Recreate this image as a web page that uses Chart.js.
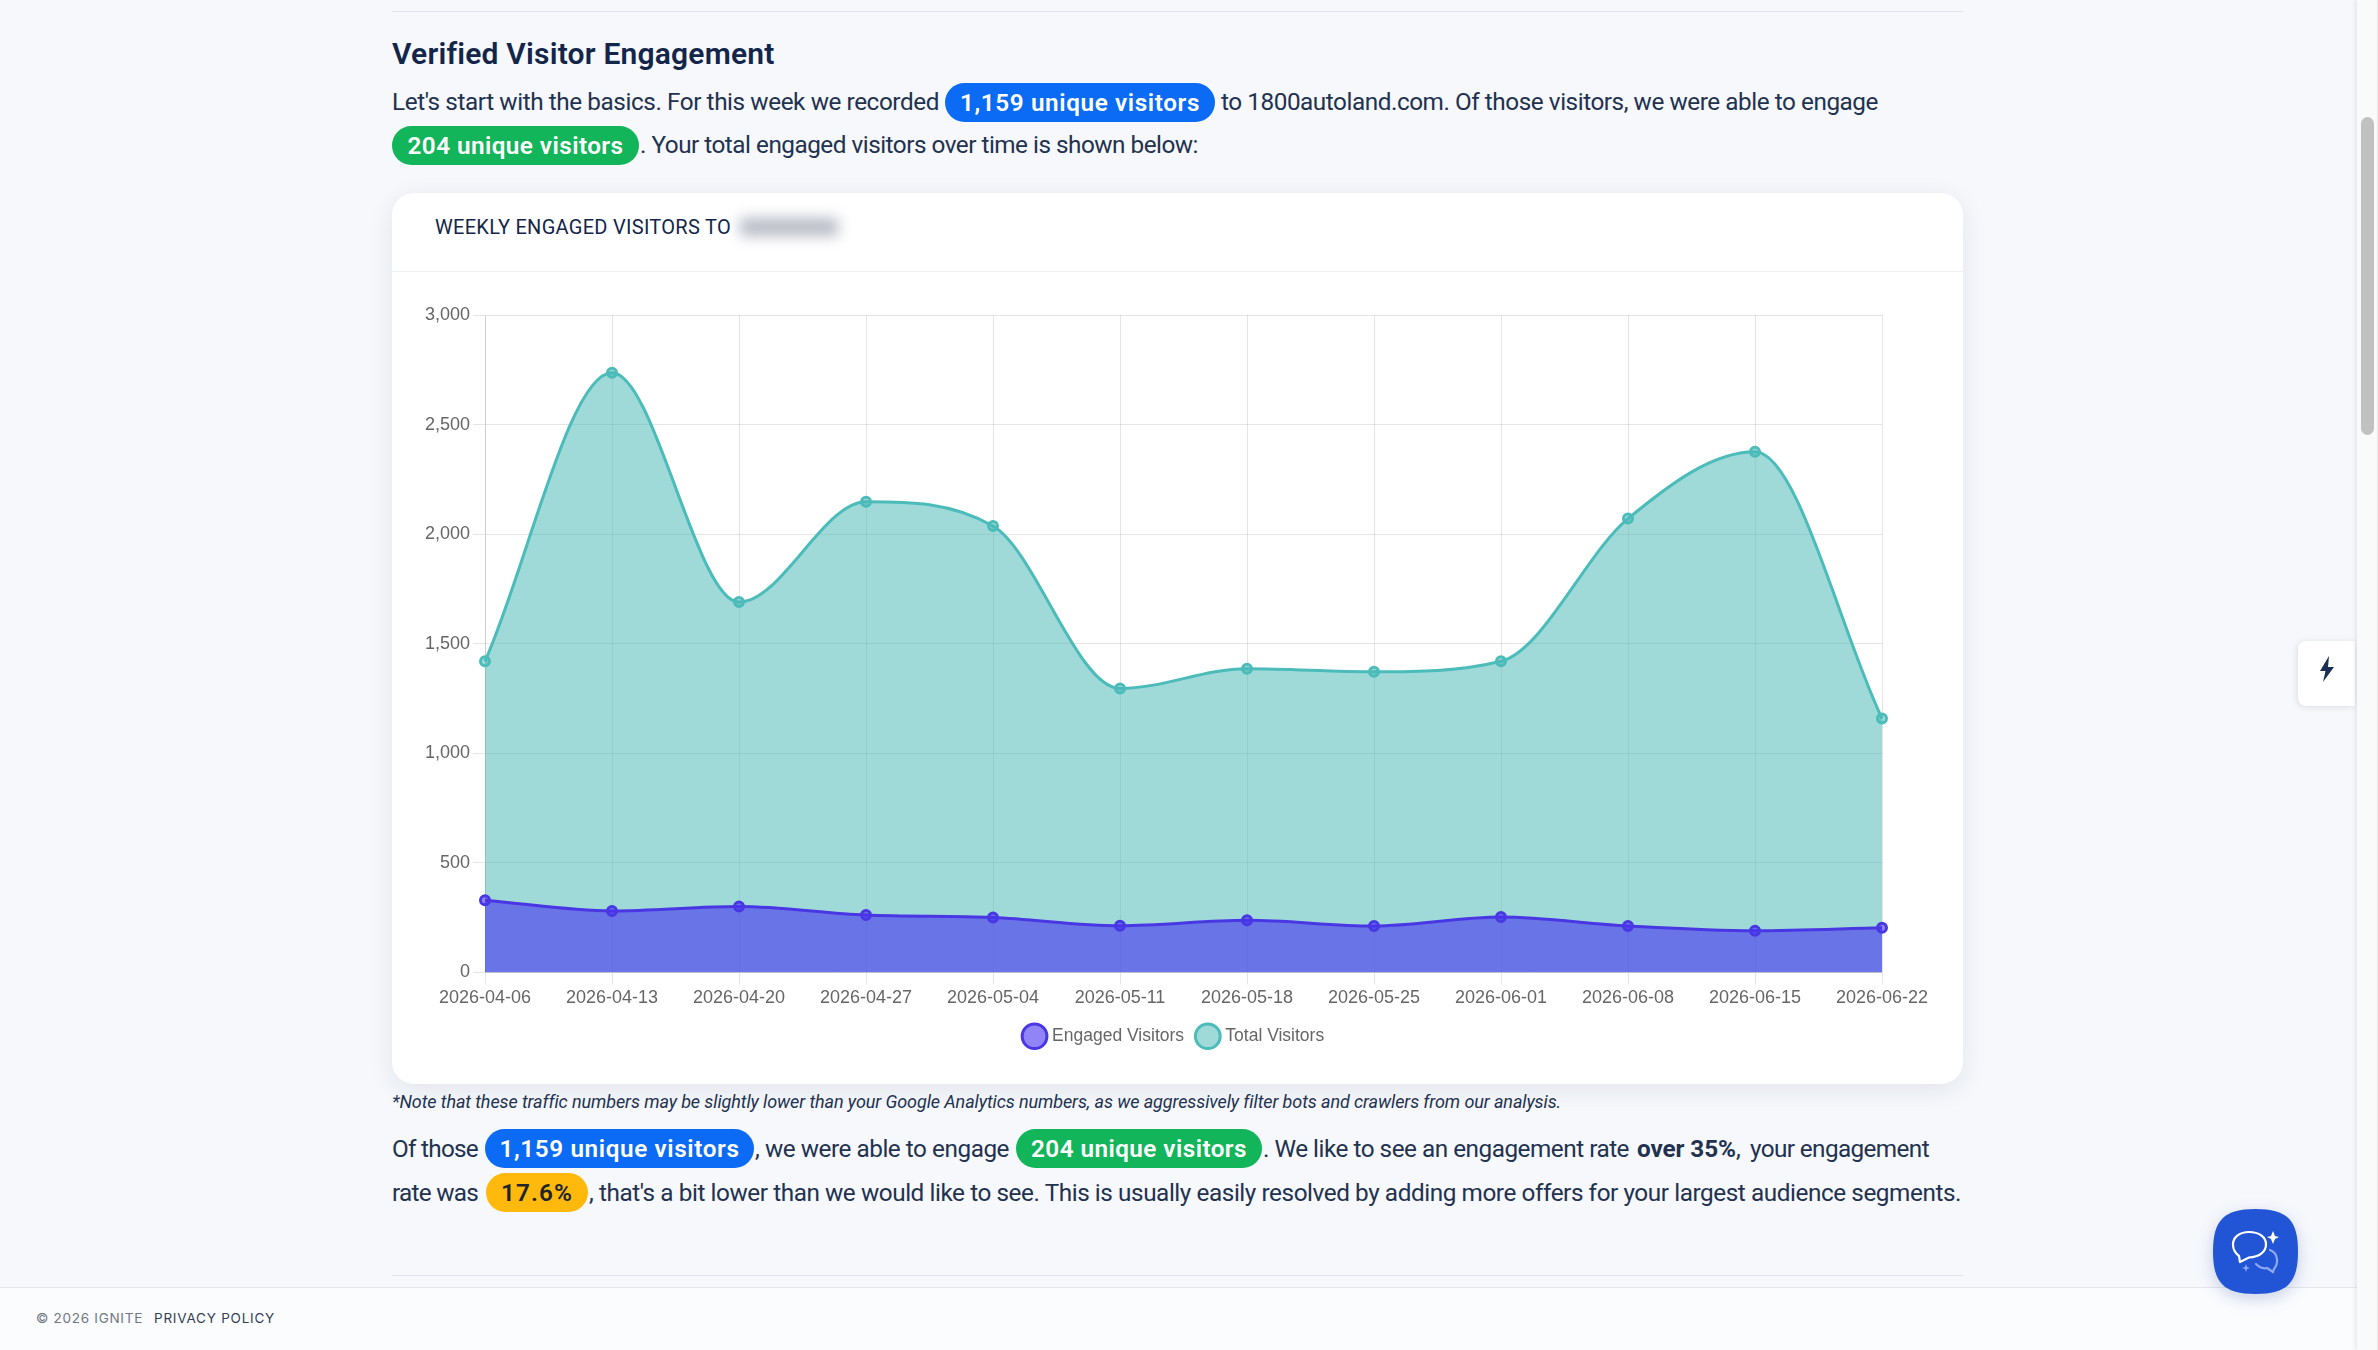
<!DOCTYPE html>
<html>
<head>
<meta charset="utf-8">
<title>Verified Visitor Engagement</title>
<script src="https://cdn.jsdelivr.net/npm/chart.js@4"></script>
<style>
  html, body { margin: 0; padding: 0; width: 2378px; height: 1350px; overflow: hidden; background: #f6f8fc; font-family: Roboto, sans-serif; color: #22324f; }
  .rule { position: absolute; left: 392px; width: 1571px; height: 1px; background: #e2e4ec; }
  .t { position: absolute; white-space: nowrap; line-height: 1; font-size: 24.3px; transform: translateY(-50%); }
  .pill { position: absolute; height: 39px; border-radius: 20px; color: #fff; font-size: 24.3px; font-weight: 600; display: flex; align-items: center; justify-content: center; white-space: nowrap; }
  .blue { background: #0b6bf5; }
  .green { background: #12b55a; }
  .yellow { background: #ffb90d; color: #212529; }
  #card { position: absolute; left: 392px; top: 193px; width: 1571px; height: 891px; background: #fff; border-radius: 22px; box-shadow: 0 6px 26px rgba(20,30,60,.09); }
  #cardHead { position: absolute; left: 392px; top: 271px; width: 1571px; height: 1px; background: #eef0f4; }
  #blurred { position: absolute; left: 740px; top: 218px; width: 98px; height: 18px; background: #7d8396; opacity: .55; filter: blur(7px); }
  #chartBox { position: absolute; left: 392px; top: 271px; }
  #footer { position: absolute; left: 0; top: 1287px; width: 2357px; height: 63px; background: #fbfcfe; border-top: 1px solid #e4e6ec; box-sizing: border-box; }
  #track { position: absolute; left: 2357px; top: 0; width: 21px; height: 1350px; background: #fafafa; box-shadow: -2px 0 4px rgba(0,0,0,.08); border-right: 1px solid #eaeaea; box-sizing: border-box; }
  #thumb { position: absolute; left: 2361px; top: 117px; width: 13px; height: 318px; border-radius: 7px; background: #c1c1c1; }
  #tab { position: absolute; left: 2298px; top: 641px; width: 57px; height: 65px; background: #fff; border-radius: 8px 0 0 8px; box-shadow: -1px 1px 6px rgba(20,30,60,.12); }
  #chat { position: absolute; left: 2213px; top: 1209px; filter: drop-shadow(0 5px 8px rgba(30,60,150,.22)); }
</style>
</head>
<body>
<div class="rule" style="top:11px"></div>
<div class="t" data-w="382" style="left:392px;top:54px;font-size:30px;font-weight:600;color:#13264a">Verified Visitor Engagement</div>

<div class="t" data-w="547" style="left:392px;top:102px">Let's start with the basics. For this week we recorded</div>
<div class="pill blue" style="left:945px;top:83px;width:270px"><span data-w="240">1,159 unique visitors</span></div>
<div class="t" data-w="657" style="left:1221px;top:102px">to 1800autoland.com. Of those visitors, we were able to engage</div>
<div class="pill green" style="left:392px;top:126px;width:247px"><span data-w="216">204 unique visitors</span></div>
<div class="t" data-w="558" style="left:640px;top:145px">. Your total engaged visitors over time is shown below:</div>

<div id="card"></div>
<div id="cardHead"></div>
<div class="t" data-w="296" style="left:435px;top:227px;font-size:20px;color:#13264a">WEEKLY ENGAGED VISITORS TO</div>
<div id="blurred"></div>
<div id="chartBox"><canvas id="visitorsChart" width="1571" height="787"></canvas></div>

<div class="t" data-w="1167" style="left:392px;top:1102px;font-size:18px;font-style:italic">*Note that these traffic numbers may be slightly lower than your Google Analytics numbers, as we aggressively filter bots and crawlers from our analysis.</div>

<div class="t" data-w="86" style="left:392px;top:1149px">Of those</div>
<div class="pill blue" style="left:485px;top:1129px;width:269px"><span data-w="240">1,159 unique visitors</span></div>
<div class="t" data-w="254" style="left:755px;top:1149px">, we were able to engage</div>
<div class="pill green" style="left:1016px;top:1129px;width:246px"><span data-w="216">204 unique visitors</span></div>
<div class="t" data-w="366" style="left:1263px;top:1149px">. We like to see an engagement rate</div>
<div class="t" data-w="99" style="left:1637px;top:1149px;font-weight:700">over 35%</div>
<div class="t" style="left:1736px;top:1149px">,</div>
<div class="t" data-w="179" style="left:1750px;top:1149px">your engagement</div>

<div class="t" data-w="86" style="left:392px;top:1193px">rate was</div>
<div class="pill yellow" style="left:486px;top:1173px;width:102px"><span data-w="72">17.6%</span></div>
<div class="t" data-w="1372" style="left:589px;top:1193px">, that's a bit lower than we would like to see. This is usually easily resolved by adding more offers for your largest audience segments.</div>

<div class="rule" style="top:1275px"></div>
<div id="footer"></div>
<div class="t" data-w="107" style="left:36px;top:1319px;font-family:Inter,sans-serif;font-size:13.5px;color:#6f7684">© 2026 IGNITE</div>
<div class="t" data-w="121" style="left:154px;top:1319px;font-family:Inter,sans-serif;font-size:13.5px;color:#343f56">PRIVACY POLICY</div>

<div id="tab">
  <svg width="57" height="65" viewBox="0 0 57 65" style="position:absolute;left:0;top:0">
    <path d="M31 15 L22 30 L27.5 30 L25 41 L36 26 L30 26 Z" fill="#1b2f55"/>
  </svg>
</div>
<svg id="chat" width="85" height="85" viewBox="0 0 85 85">
  <path d="M42.5 0 C74 0 85 11 85 42.5 C85 74 74 85 42.5 85 C11 85 0 74 0 42.5 C0 11 11 0 42.5 0 Z" fill="#2255d6"/>
  <path d="M36 23 C46 23 53 28 53 35.5 C53 43 46 48 36 48.5 L27 53 L26 47 C22 44 20 40 20 35.5 C20 28 27 23 36 23 Z" fill="none" stroke="#fff" stroke-width="2.2" stroke-linejoin="round"/>
  <path d="M57 41 C65 44 66 54 61 60 L60 63 L54 59 C50 60 47 59 43 55" fill="none" stroke="#8fa9f0" stroke-width="2.2" stroke-linecap="round"/>
  <path d="M60 22 L62 27 L66 28 L62 30 L60 35 L58 30 L54 28 L58 27 Z" fill="#fff"/>
  <path d="M33 55 L34 58 L37 59 L34 60 L33 63 L32 60 L29 59 L32 58 Z" fill="#8fa9f0"/>
</svg>
<div id="track"></div>
<div id="thumb"></div>

<script>
const weeks = ['2026-04-06', '2026-04-13', '2026-04-20', '2026-04-27', '2026-05-04', '2026-05-11', '2026-05-18', '2026-05-25', '2026-06-01', '2026-06-08', '2026-06-15', '2026-06-22'];
const engagedVisitors = [330, 281, 301, 262, 251, 213, 238, 212, 253, 212, 190, 204];
const totalVisitors = [1420, 2737, 1690, 2148, 2037, 1296, 1386, 1372, 1420, 2071, 2376, 1159];

// stretch each text run to the width it has in the reference
document.querySelectorAll('[data-w]').forEach(function (el) {
  const natural = el.getBoundingClientRect().width;
  const target = Number(el.dataset.w);
  el.style.letterSpacing = ((target - natural) / el.textContent.length) + 'px';
});

Chart.defaults.font.family = '"Liberation Sans", Arial, sans-serif';
Chart.defaults.font.size = 18;
Chart.defaults.color = '#666';

// right padding pulls the legend off centre, push it back under the plot
const centerLegend = {
  id: 'centerLegend',
  afterLayout: function (chart) {
    chart.legend.left += 38;
    chart.legend.right += 38;
  }
};

const ctx = document.getElementById('visitorsChart').getContext('2d');
const visitorsChart = new Chart(ctx, {
  type: 'line',
  data: {
    labels: weeks,
    datasets: [{
      label: 'Engaged Visitors',
      data: engagedVisitors,
      borderColor: 'rgb(74, 55, 228)',
      backgroundColor: 'rgba(70, 50, 240, 0.6)',
      borderWidth: 3,
      pointRadius: 4.5,
      pointBorderWidth: 3,
      cubicInterpolationMode: 'monotone',
      fill: 'origin'
    }, {
      label: 'Total Visitors',
      data: totalVisitors,
      borderColor: 'rgb(75, 188, 185)',
      backgroundColor: 'rgba(70, 184, 182, 0.52)',
      borderWidth: 3,
      pointRadius: 4.5,
      pointBorderWidth: 3,
      cubicInterpolationMode: 'monotone',
      fill: 'origin'
    }]
  },
  plugins: [centerLegend],
  options: {
    responsive: false,
    animation: false,
    layout: { padding: { left: 0, right: 81, top: 44, bottom: 3 } },
    scales: {
      x: {
        afterFit: function (scale) { scale.height = 40; },
        grid: { tickLength: 12 },
        ticks: { padding: 3, maxRotation: 0, autoSkip: false }
      },
      y: {
        min: 0,
        max: 3000,
        afterFit: function (scale) { scale.width = 93; },
        grid: { tickLength: 12 },
        ticks: { padding: 3, stepSize: 500 }
      }
    },
    plugins: {
      legend: {
        position: 'bottom',
        labels: { usePointStyle: true, padding: 15, font: { size: 17.5 } }
      },
      tooltip: { enabled: false }
    }
  }
});
</script>
</body>
</html>
